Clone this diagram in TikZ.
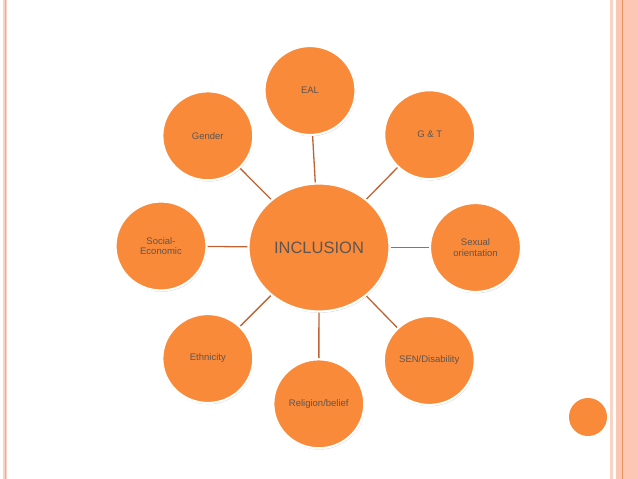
\documentclass[tikz,border=0pt]{standalone}
\usepackage{fontspec}
\setmainfont{Liberation Sans}
\usetikzlibrary{shapes.geometric,shadows}
\definecolor{orfill}{RGB}{248,138,58}
\definecolor{conn}{RGB}{190,100,50}
\definecolor{txt}{RGB}{95,85,80}
\definecolor{palepink}{RGB}{246,212,198}
\definecolor{salmon}{RGB}{252,200,180}
\definecolor{barline}{RGB}{232,145,95}
\definecolor{leftline}{RGB}{238,170,150}
\tikzset{
  bubble/.style={ellipse, fill=orfill, draw=white, line width=2.2pt,
    drop shadow={shadow xshift=0.6pt, shadow yshift=-1.2pt, opacity=0.25, fill=black},
    text=txt, align=center, inner sep=0pt},
  sat/.style={bubble, minimum width=91pt, minimum height=89pt,
    font=\fontsize{9.5}{10.5}\selectfont},
  hub/.style={bubble, minimum width=141pt, minimum height=128pt,
    font=\fontsize{16.5}{18}\selectfont},
  link/.style={draw=conn, line width=1.3pt},
}
\begin{document}
\begin{tikzpicture}[x=1pt,y=-1pt]
\useasboundingbox (0,0) rectangle (638,479);
\fill[white] (0,0) rectangle (638,479);
% slide borders
\fill[palepink] (3,0) rectangle (7,479);
\draw[leftline, line width=0.8pt] (5,0) -- (5,479);
\fill[palepink] (610,0) rectangle (613,479);
\fill[salmon] (616,0) rectangle (638,479);
\draw[barline, line width=0.9pt] (622,0) -- (622,479);
% small decorative dot
\fill[orfill] (588,417) circle (19);
% nodes
\node[hub] (inc) at (319,247.5) {INCLUSION};
\node[sat] (eal) at (310,90.5) {EAL};
\node[sat] (gt) at (429.7,134.7) {G \& T};
\node[sat] (sex) at (475.5,247.5) {Sexual\\orientation};
\node[sat] (sen) at (429.3,360.5) {SEN/Disability};
\node[sat] (rel) at (318.8,403.8) {Religion/belief};
\node[sat] (eth) at (207.8,358.5) {Ethnicity};
\node[sat] (soc) at (161,246) {Social-\\Economic};
\node[sat] (gen) at (207.8,135.8) {Gender};
% connectors
\foreach \n in {eal,gt,sex,sen,rel,eth,soc,gen}
  \path[link] (inc) -- (\n);
\end{tikzpicture}
\end{document}
